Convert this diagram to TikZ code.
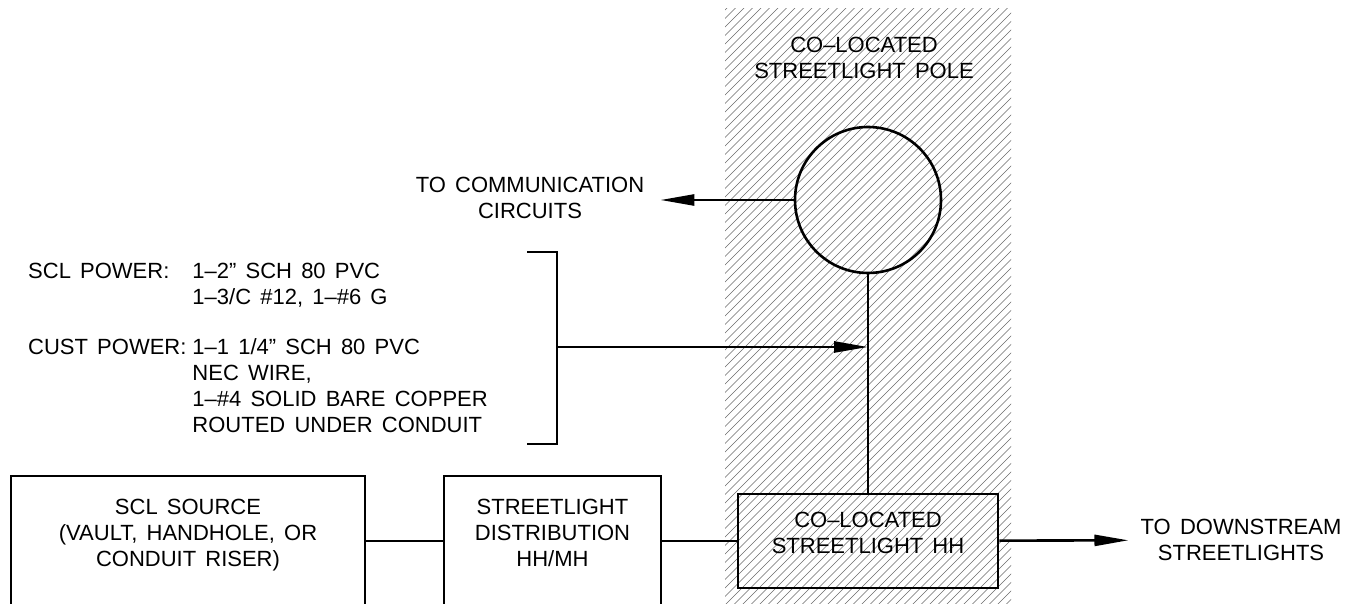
\documentclass[tikz,border=0pt]{standalone}
\usepackage{fontspec}
\setmainfont{Liberation Sans}[WordSpace=1.5]
\usetikzlibrary{positioning,arrows.meta}
\definecolor{ink}{HTML}{000000}
\definecolor{hatch}{HTML}{6A6A6A}
\newcommand{\boxtext}[1]{\raisebox{6pt}[\height][\depth]{\begin{tabular}{@{}c@{}}#1\end{tabular}}}

\begin{document}
\begin{tikzpicture}[x=1pt,y=-1pt,>={Triangle[length=34pt,width=11pt]},font=\fontsize{22}{26}\selectfont,wire/.style={draw=ink,line width=2.6pt},box/.style={wire,align=center,inner sep=0pt},lbl/.style={align=center,inner sep=0pt},hatchline/.style={draw=hatch,line width=0.6pt}]
\clip (0,0) rectangle (1358,604);
\begin{scope}
\clip (725,9) rectangle (1011,610);
\foreach \k in {0,...,105} \draw[hatchline] (125+\k*8.5,610) -- ++(610,-610);
\end{scope}
\node[box,circle,minimum size=146pt] (pole) at (868,200) {};
\node[lbl] (polename) at (864,58) {CO--LOCATED\\STREETLIGHT POLE};
\node[box,minimum width=260pt,minimum height=94pt] (hh) at (868,541) {\boxtext{CO--LOCATED\\STREETLIGHT HH}};
\node[box,minimum width=354pt,minimum height=130pt] (src) at (188,541) {\boxtext{SCL SOURCE\\(VAULT, HANDHOLE, OR\\CONDUIT RISER)}};
\node[box,minimum width=217pt,minimum height=130pt] (dist) at (552.5,541) {\boxtext{STREETLIGHT\\DISTRIBUTION\\HH/MH}};
\node[lbl] (comm) at (530,198) {TO COMMUNICATION\\CIRCUITS};
\node[lbl] (down) at (1241,540) {TO DOWNSTREAM\\STREETLIGHTS};
\node[anchor=base west,inner sep=0pt] (power) at (28,279) {\begin{tabular}[t]{@{}l@{\hspace{6pt}}l@{}}SCL POWER: & 1--2'' SCH 80 PVC\\ & 1--3/C \#12, 1--\#6 G\\[24pt] CUST POWER: & 1--1 1/4'' SCH 80 PVC\\ & NEC WIRE,\\ & 1--\#4 SOLID BARE COPPER\\ & ROUTED UNDER CONDUIT\end{tabular}};
\coordinate (brk) at (557,347);
\draw[wire] (brk) ++(-30,-95) -- ++(30,0) -- ++(0,192) -- ++(-30,0);
\draw[wire,->] (brk) -- (brk -| pole.south);
\draw[wire] (src) -- (dist);\draw[wire] (dist) -- (hh);\draw[wire] (pole) -- (hh);
\draw[wire,->,shorten >=16pt] (pole) -- (pole -| comm.east);
\draw[wire,->,shorten >=12pt] (hh) -- (down);
\end{tikzpicture}
\end{document}
